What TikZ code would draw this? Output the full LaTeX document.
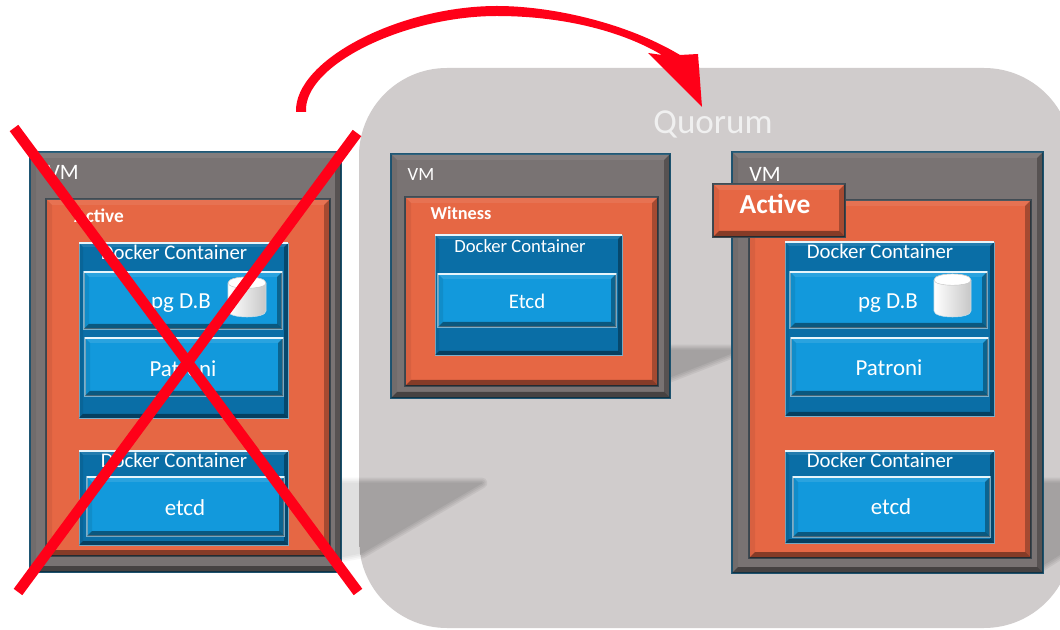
\documentclass[tikz,border=0pt]{standalone}
\usepackage{fontspec}
\setmainfont{Carlito}
\usetikzlibrary{shadings}
\definecolor{vmgrey}{HTML}{797373}
\definecolor{vmedge}{HTML}{1F5673}
\definecolor{orangebox}{HTML}{E66744}
\definecolor{orangeedge}{HTML}{3F4A52}
\definecolor{dockerblue}{HTML}{0A6EA6}
\definecolor{innerblue}{HTML}{1299DC}
\definecolor{quorumgrey}{HTML}{D0CCCC}
\definecolor{lightedge}{HTML}{C6DCE6}
\definecolor{redx}{HTML}{FF0018}
\tikzset{
  x=.75pt,y=-.75pt,
  vmbox/.style={fill=vmgrey,draw=vmedge,line width=1.2pt},
  orbox/.style={fill=orangebox,draw=orangeedge,line width=1.2pt},
  dockerbox/.style={fill=dockerblue,draw=lightedge!60!dockerblue,line width=.7pt},
  innerbox/.style={fill=innerblue,draw=lightedge!60!dockerblue,line width=.8pt},
  lbl/.style={text=white,inner sep=0pt,font=\fontsize{15.6}{18}\selectfont},
  smalllbl/.style={text=white,inner sep=0pt,font=\fontsize{14}{16}\selectfont},
  biglbl/.style={text=white,inner sep=0pt,font=\fontsize{17.2}{20}\selectfont},
  vmlbl/.style={text=white,inner sep=0pt,font=\fontsize{16.5}{19}\selectfont},
  boldlbl/.style={text=white,inner sep=0pt,font=\bfseries\fontsize{14.5}{17}\selectfont},
  redline/.style={draw=redx,line width=8pt},
}
\newcommand{\bbox}[7]{% name x1 y1 x2 y2 style bevel
  \pgfmathsetmacro\bw{(#4-#2)*.75}
  \pgfmathsetmacro\bh{(#5-#3)*.75}
  \node[#6,minimum width=\bw pt,minimum height=\bh pt,inner sep=0pt,outer sep=0pt,anchor=north west] (#1) at (#2,#3) {};
  \fill[white,opacity=.10] (#2,#3) -- (#4,#3) -- ({#4-#7},{#3+#7}) -- ({#2+#7},{#3+#7}) -- cycle;
  \fill[black,opacity=.08] (#2,#3) -- ({#2+#7},{#3+#7}) -- ({#2+#7},{#5-#7}) -- (#2,#5) -- cycle;
  \fill[black,opacity=.34] (#4,#3) -- ({#4-#7},{#3+#7}) -- ({#4-#7},{#5-#7}) -- (#4,#5) -- cycle;
  \fill[black,opacity=.42] (#2,#5) -- (#4,#5) -- ({#4-#7},{#5-#7}) -- ({#2+#7},{#5-#7}) -- cycle;
  \draw[white!90!innerblue,line width=.8pt] (#2,#3) -- (#4,#3);
}
\newcommand{\vmbbox}[7]{% as \bbox, without the bright top line
  \pgfmathsetmacro\bw{(#4-#2)*.75}
  \pgfmathsetmacro\bh{(#5-#3)*.75}
  \node[#6,minimum width=\bw pt,minimum height=\bh pt,inner sep=0pt,outer sep=0pt,anchor=north west] (#1) at (#2,#3) {};
  \fill[white,opacity=.08] (#2,#3) -- (#4,#3) -- ({#4-#7},{#3+#7}) -- ({#2+#7},{#3+#7}) -- cycle;
  \fill[black,opacity=.06] (#2,#3) -- ({#2+#7},{#3+#7}) -- ({#2+#7},{#5-#7}) -- (#2,#5) -- cycle;
  \fill[black,opacity=.28] (#4,#3) -- ({#4-#7},{#3+#7}) -- ({#4-#7},{#5-#7}) -- (#4,#5) -- cycle;
  \fill[black,opacity=.42] (#2,#5) -- (#4,#5) -- ({#4-#7},{#5-#7}) -- ({#2+#7},{#5-#7}) -- cycle;
}
\newcommand{\dbcyl}[5]{% name x1 y1 x2 y2
  \pgfmathsetmacro\cw{(#4-#2)*.75}
  \pgfmathsetmacro\ch{(#5-#3)*.75}
  \node[minimum width=\cw pt,minimum height=\ch pt,inner sep=0pt,outer sep=0pt,anchor=north west] (#1) at (#2,#3) {};
  \path[left color=white,right color=black!22,draw=lightedge,line width=.4pt]
    (#2,{#3+6}) -- (#2,{#5-6})
    .. controls (#2,{#5+2}) and (#4,{#5+2}) .. (#4,{#5-6})
    -- (#4,{#3+6})
    .. controls (#4,{#3-2}) and (#2,{#3-2}) .. (#2,{#3+6}) -- cycle;
  \path[fill=white,draw=black!25,line width=.3pt]
    (#2,{#3+6}) .. controls (#2,{#3-2}) and (#4,{#3-2}) .. (#4,{#3+6})
    .. controls (#4,{#3+13}) and (#2,{#3+13}) .. (#2,{#3+6}) -- cycle;
}
\newcommand{\softpoly}[2]{% opacity, path
  \foreach \k in {8,5.5,3,.5}{
    \begin{scope}[transparency group,opacity=#1]
      \path[fill=black,draw=black,line width=\k pt,line join=round] #2;
    \end{scope}
  }
}
\begin{document}
\begin{tikzpicture}
\useasboundingbox (0,0) rectangle (1060,630);
\fill[white] (0,0) rectangle (1060,630);

% shadow on the white gap
\softpoly{.03}{(341,483) -- (362,483) -- (362,553) -- (341,557) -- cycle}

% Quorum backdrop
\fill[quorumgrey,rounded corners=66pt] (359,68) rectangle (1072,628);
\node[text=white!94!black,inner sep=0pt,font=\fontsize{26.3}{30}\selectfont] (quorum) at (713,124) {Quorum};

% soft shadows on the Quorum
\begin{scope}
\clip[rounded corners=66pt] (359,68) rectangle (1072,628);
\softpoly{.055}{(341,483) -- (482,483) -- (362,553) -- (341,557) -- cycle}
\softpoly{.055}{(665,350) -- (748,350) -- (735,352) -- (665,379) -- cycle}
\softpoly{.055}{(1040,483) -- (1075,483) -- (1075,545) -- (1040,567) -- cycle}
\end{scope}

% Left VM
\vmbbox{vmA}{30}{152}{341}{572}{vmbox}{6}
\vmbbox{orA}{46}{199}{330}{556}{orbox}{6}
\node[vmlbl] (vmAt) at (63,172) {VM};
\node[boldlbl] (actA) at (99,216) {Active};
\bbox{dkA}{79}{243}{288}{418}{dockerbox}{4}
\node[lbl] (dkAt) at (174,252) {Docker Container};
\bbox{pgA}{84}{272}{282}{329}{innerbox}{5}
\node[biglbl] (pgAt) at (181,303) {pg D.B};
\dbcyl{cylA}{228}{277}{266}{317}
\bbox{paA}{85}{338}{283}{396}{innerbox}{5}
\node[biglbl] (paAt) at (183,369) {Patroni};
\bbox{dkB}{79}{451}{288}{545}{dockerbox}{4}
\node[lbl] (dkBt) at (174,460) {Docker Container};
\bbox{etA}{87}{477}{284}{536}{innerbox}{5}
\node[biglbl] (etAt) at (185,508) {etcd};

% Witness VM
\vmbbox{vmW}{391}{154}{670}{398}{vmbox}{6}
\vmbbox{orW}{405}{197}{658}{386}{orbox}{6}
\node[smalllbl] (vmWt) at (421,175) {VM};
\node[boldlbl,font=\bfseries\fontsize{13.7}{16}\selectfont] (witt) at (461,213) {Witness};
\bbox{dkW}{435}{235}{622}{355}{dockerbox}{4}
\node[smalllbl] (dkWt) at (520,246) {Docker Container};
\bbox{etW}{438}{274}{616}{327}{innerbox}{5}
\node[lbl] (etWt) at (527,301) {Etcd};

% Right VM
\vmbbox{vmR}{732}{152}{1043}{573}{vmbox}{6}
\vmbbox{orR}{749}{200}{1031}{558}{orbox}{6}
\node[vmlbl] (vmRt) at (765,174) {VM};
\vmbbox{actR}{713}{184}{845}{237}{orbox}{6}
\node[boldlbl,font=\bfseries\fontsize{20.6}{24}\selectfont] (actRt) at (775,204) {Active};
\bbox{dkR}{785}{242}{994}{416}{dockerbox}{4}
\node[lbl] (dkRt) at (880,251) {Docker Container};
\bbox{pgR}{790}{272}{987}{328}{innerbox}{5}
\node[biglbl] (pgRt) at (888,303) {pg D.B};
\dbcyl{cylR}{934}{274}{971}{317}
\bbox{paR}{791}{338}{988}{396}{innerbox}{5}
\node[biglbl] (paRt) at (889,368) {Patroni};
\bbox{dkS}{785}{451}{994}{543}{dockerbox}{4}
\node[lbl] (dkSt) at (880,460) {Docker Container};
\bbox{etR}{793}{477}{990}{537}{innerbox}{5}
\node[biglbl] (etRt) at (891,507) {etcd};

% Red cross
\coordinate (xa) at (14,128);
\coordinate (xb) at (358,592);
\coordinate (xc) at (357,133);
\coordinate (xd) at (18,592);
\draw[redline] (xa) -- (xb);
\draw[redline] (xc) -- (xd);

% Failover arrow
\coordinate (arrS) at (296,112);
\coordinate (arrT) at (702,107);
\fill[redx] (arrS) .. controls (294,60) and (400,6) .. (497,6)
  .. controls (550,6) and (625,22) .. (680,55) -- (698,54) -- (arrT) -- (648,53) -- (662,55)
  .. controls (620,30) and (560,16) .. (497,16)
  .. controls (405,16) and (303,65) .. (306,112) -- cycle;
\end{tikzpicture}
\end{document}
